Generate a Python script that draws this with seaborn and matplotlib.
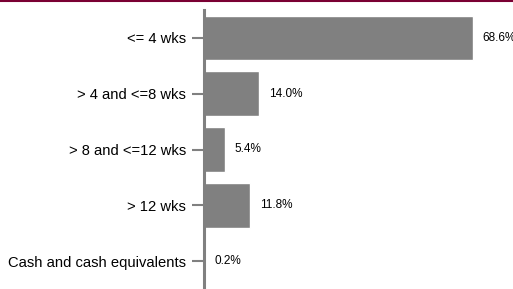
import matplotlib.pyplot as plt
import seaborn as sns
import pandas as pd
from matplotlib.lines import Line2D

# maturity buckets and share of portfolio (%)
categories = ["<= 4 wks", "> 4 and <=8 wks", "> 8 and <=12 wks", "> 12 wks",
              "Cash and cash equivalents"]
values = [68.6, 14.0, 5.4, 11.8, 0.2]
value_labels = ["68.6%", "14.0%", "5.4%", "11.8%", "0.2%"]

df = pd.DataFrame({"bucket": categories, "share": values})

sns.set_style("white")
plt.rcParams["font.family"] = ["Liberation Sans", "DejaVu Sans"]

fig = plt.figure(figsize=(5.13, 2.89), dpi=100)
ax = fig.add_axes([204 / 513, 0.0, 1 - 204 / 513, 1 - 10 / 289])

sns.barplot(data=df, x="share", y="bucket", color="#808080", saturation=1,
            width=0.8, ax=ax)
ax.bar_label(ax.containers[0], labels=value_labels, padding=7, fontsize=8.5,
             color="black")

ax.set_xlim(0, 78.8)
ax.set_ylim(4.5, -0.5)
ax.set_xlabel("")
ax.set_ylabel("")
ax.set_xticks([])
for s in ["top", "right", "bottom"]:
    ax.spines[s].set_visible(False)
ax.spines["left"].set_color("#808080")
ax.spines["left"].set_linewidth(2.2)
ax.tick_params(axis="y", length=9, width=1.5, color="#808080", pad=4,
               labelsize=10.6, labelcolor="black", left=True)

# maroon rule along the top
fig.add_artist(Line2D([0, 1], [1 - 1 / 289, 1 - 1 / 289], color="#7a0033",
                      linewidth=1.5, transform=fig.transFigure))

fig.savefig("out.png", dpi=100)
